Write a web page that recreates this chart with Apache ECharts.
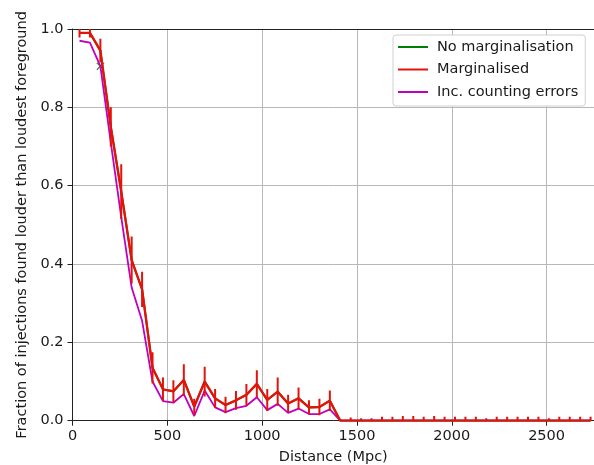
<!DOCTYPE html>
<html>
<head>
<meta charset="utf-8">
<script src="https://cdn.jsdelivr.net/npm/echarts@6/dist/echarts.min.js"></script>
<style>
  html, body { margin: 0; padding: 0; background: #fff; }
  #chart { width: 594px; height: 465px; }
</style>
</head>
<body>
<div id="chart"></div>
<script>
// Injection distances (Mpc)
const distance = [37, 92, 147, 202, 257, 312, 367, 422, 477, 532,
  587, 642, 697, 752, 807, 862, 917, 972, 1027, 1082,
  1137, 1192, 1247, 1302, 1357, 1412, 1467, 1522, 1577, 1632,
  1687, 1742, 1797, 1852, 1907, 1962, 2017, 2072, 2127, 2182,
  2237, 2292, 2347, 2402, 2457, 2512, 2567, 2622, 2677, 2732];

// Fraction found louder than the loudest foreground event
const marginalised = [0.99, 0.99, 0.945, 0.75, 0.585, 0.41, 0.335, 0.135, 0.08, 0.075,
  0.104, 0.036, 0.10, 0.057, 0.04, 0.052, 0.066, 0.094, 0.053, 0.074,
  0.044, 0.057, 0.034, 0.035, 0.051, 0, 0, 0, 0, 0,
  0, 0, 0, 0, 0, 0, 0, 0, 0, 0,
  0, 0, 0, 0, 0, 0, 0, 0, 0, 0];

const marginalisedErr = [0.012, 0.012, 0.03, 0.05, 0.07, 0.06, 0.045, 0.04, 0.03, 0.028,
  0.04, 0.02, 0.038, 0.024, 0.021, 0.024, 0.028, 0.035, 0.028, 0.036,
  0.022, 0.028, 0.018, 0.021, 0.026, 0.004, 0.008, 0.006, 0.006, 0.01,
  0.01, 0.012, 0.012, 0.01, 0.012, 0.01, 0.01, 0.01, 0.01, 0.006,
  0.01, 0.01, 0.01, 0.01, 0.01, 0.006, 0.01, 0.01, 0.01, 0.01];

const noMarginalisation = [0.99, 0.99, 0.945, 0.75, 0.585, 0.41, 0.335, 0.135, 0.08, 0.075,
  0.104, 0.036, 0.10, 0.057, 0.04, 0.052, 0.066, 0.094, 0.053, 0.074,
  0.044, 0.057, 0.034, 0.035, 0.051, 0, 0, 0, 0, 0,
  0, 0, 0, 0, 0, 0, 0, 0, 0, 0,
  0, 0, 0, 0, 0, 0, 0, 0, 0, 0];

// Single flagged point of the un-marginalised result
const noMarginalisationCross = [[147, 0.905]];

const countingErrors = [0.97, 0.965, 0.905, 0.71, 0.52, 0.34, 0.255, 0.10, 0.05, 0.046,
  0.068, 0.012, 0.077, 0.034, 0.022, 0.032, 0.038, 0.06, 0.027, 0.043,
  0.02, 0.031, 0.017, 0.017, 0.029, 0, 0, 0, 0, 0,
  0, 0, 0, 0, 0, 0, 0, 0, 0, 0,
  0, 0, 0, 0, 0, 0, 0, 0, 0, 0];

const xTicks = [0, 500, 1000, 1500, 2000, 2500];
const yTicks = [0.0, 0.2, 0.4, 0.6, 0.8, 1.0];

const GREEN = '#008000';
const RED = '#e3130b';
const MAGENTA = '#bf00bf';
const TEXT = '#1a1a1a';
const FONT = 'DejaVu Sans';
const FS = 14.5;

const zip = (xs, ys) => xs.map((x, i) => [x, ys[i]]);
const errRows = distance.map((d, i) => [d, marginalised[i], marginalisedErr[i]]);

const chart = echarts.init(document.getElementById('chart'), null, { renderer: 'canvas' });

chart.setOption({
  animation: false,
  backgroundColor: '#fff',
  grid: { left: 72.5, right: 0, top: 29, bottom: 44.3, containLabel: false, outerBoundsMode: 'none' },
  legend: {
    data: ['No marginalisation', 'Marginalised', 'Inc. counting errors'],
    orient: 'vertical',
    left: 393,
    top: 35,
    icon: 'rect',
    itemWidth: 30,
    itemHeight: 2,
    itemGap: 6.5,
    padding: [4, 7, 6, 5],
    backgroundColor: '#fff',
    borderColor: '#d0d0d0',
    borderWidth: 1,
    borderRadius: 3,
    textStyle: { fontFamily: FONT, fontSize: FS, color: TEXT, lineHeight: 16, padding: [0, 0, 0, 4] }
  },
  xAxis: [{
    type: 'value',
    min: 0,
    max: 2750,
    interval: 500,
    name: 'Distance (Mpc)',
    nameLocation: 'middle',
    nameGap: 29,
    nameTextStyle: { fontFamily: FONT, fontSize: FS, color: TEXT },
    axisLine: { show: true, onZero: false, lineStyle: { color: '#222', width: 1 } },
    axisTick: { show: true, length: 5, lineStyle: { color: '#222', width: 1 } },
    axisLabel: {
      fontFamily: FONT, fontSize: FS, color: TEXT, margin: 8,
      showMaxLabel: false,
      formatter: v => (xTicks.includes(v) ? String(v) : '')
    },
    splitLine: { show: true, lineStyle: { color: '#b8b8b8', width: 1 } }
  }, {
    type: 'value',
    position: 'top',
    min: 0,
    max: 2750,
    axisLine: { show: true, onZero: false, lineStyle: { color: '#222', width: 1 } },
    axisTick: { show: false },
    axisLabel: { show: false },
    splitLine: { show: false }
  }],
  yAxis: {
    type: 'value',
    min: 0,
    max: 1,
    interval: 0.2,
    name: 'Fraction of injections found louder than loudest foreground',
    nameLocation: 'middle',
    nameGap: 41,
    nameTextStyle: { fontFamily: FONT, fontSize: FS, color: TEXT },
    axisLine: { show: true, onZero: false, lineStyle: { color: '#222', width: 1 } },
    axisTick: { show: true, length: 5, lineStyle: { color: '#222', width: 1 } },
    axisLabel: {
      fontFamily: FONT, fontSize: FS, color: TEXT, margin: 9,
      formatter: v => (yTicks.some(t => Math.abs(t - v) < 1e-9) ? v.toFixed(1) : '')
    },
    splitLine: { show: true, lineStyle: { color: '#b8b8b8', width: 1 } }
  },
  series: [
    {
      name: 'No marginalisation',
      type: 'line',
      data: zip(distance, noMarginalisation),
      symbol: 'none',
      color: GREEN,
      lineStyle: { color: GREEN, width: 2 },
      z: 2
    },
    {
      name: 'No marginalisation',
      type: 'scatter',
      data: noMarginalisationCross,
      symbol: 'path://M0,0L10,10M10,0L0,10',
      symbolSize: 7,
      itemStyle: { color: 'transparent', borderColor: GREEN, borderWidth: 1.4 },
      z: 3
    },
    {
      name: 'Inc. counting errors',
      type: 'line',
      data: zip(distance, countingErrors),
      symbol: 'none',
      color: MAGENTA,
      lineStyle: { color: MAGENTA, width: 1.8 },
      z: 4
    },
    {
      name: 'Marginalised',
      type: 'line',
      data: zip(distance, marginalised),
      symbol: 'none',
      color: RED,
      lineStyle: { color: RED, width: 2.3 },
      z: 5
    },
    {
      name: 'Marginalised',
      type: 'custom',
      data: errRows,
      clip: true,
      z: 6,
      renderItem: (params, api) => {
        const x = api.value(0), y = api.value(1), e = api.value(2);
        const lo = api.coord([x, y - e]);
        const hi = api.coord([x, y + e]);
        return {
          type: 'line',
          shape: { x1: lo[0], y1: lo[1], x2: hi[0], y2: hi[1] },
          style: { stroke: RED, lineWidth: 2 }
        };
      }
    }
  ]
});
</script>
</body>
</html>
